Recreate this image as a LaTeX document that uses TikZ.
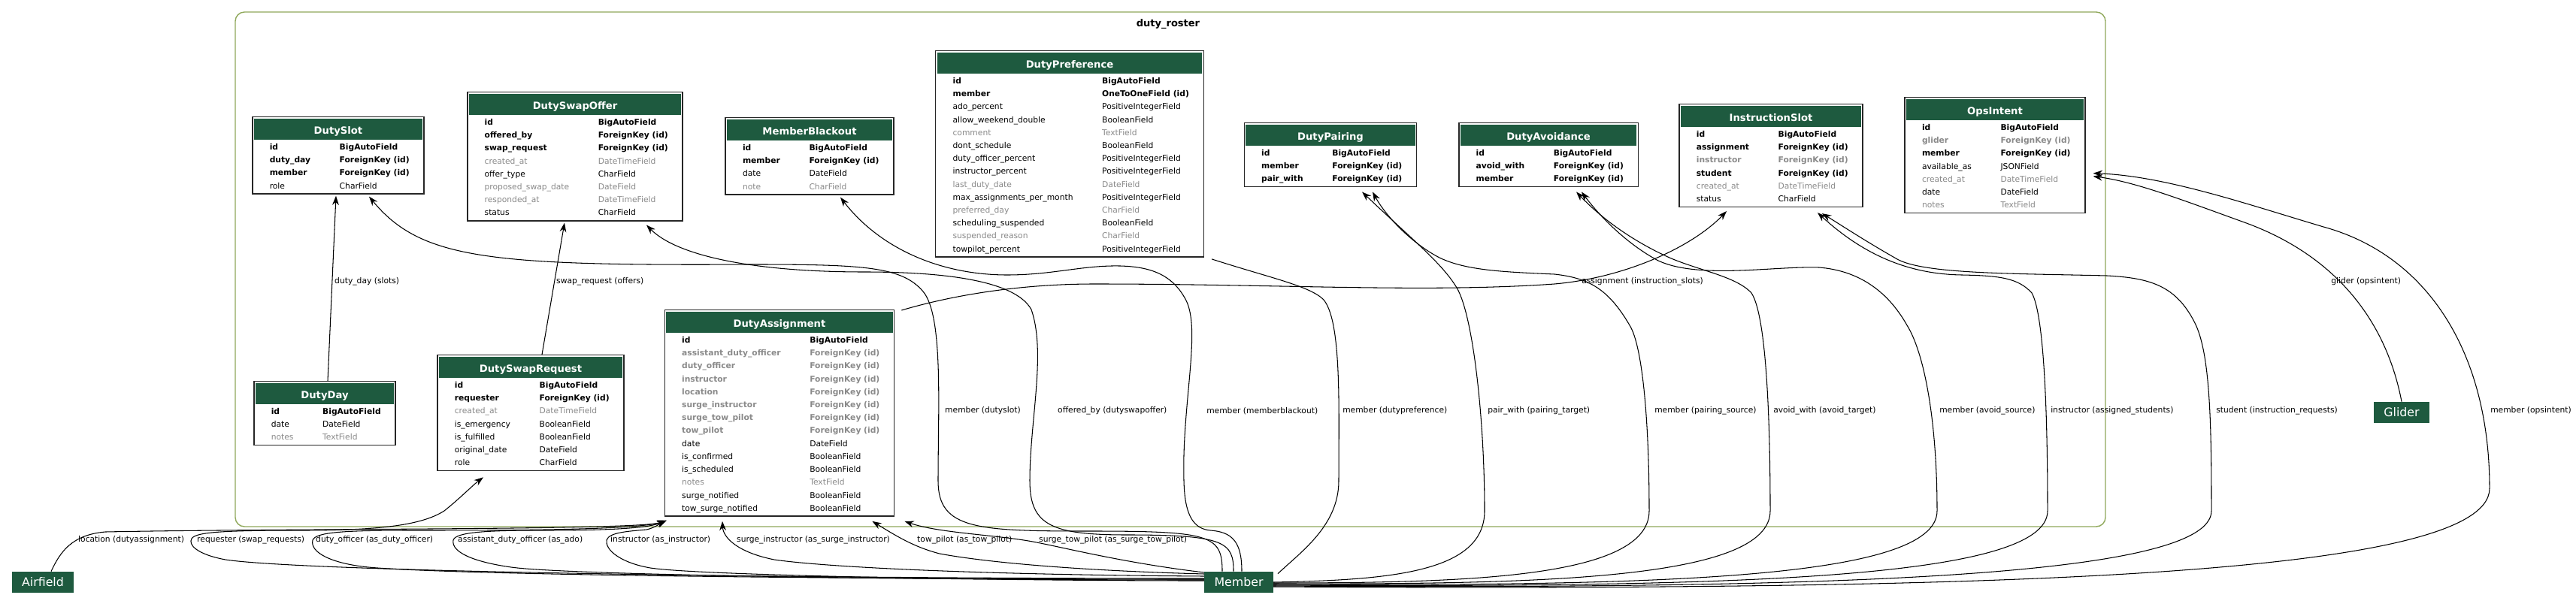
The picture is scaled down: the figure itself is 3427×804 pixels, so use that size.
\documentclass[tikz,border=0pt]{standalone}
\usepackage{fontspec}
\setmainfont{DejaVu Sans}
\usetikzlibrary{arrows, arrows.meta, positioning, calc}
\definecolor{hdrgreen}{HTML}{1E5A3F}
\definecolor{clustline}{HTML}{8FA85A}
\definecolor{nullgrey}{HTML}{8A8A8A}
\newcommand{\colgap}{22pt}
\newcommand{\tblfont}{\fontsize{6.1}{9.8}\selectfont}
% rows: bold, plain, grey, grey bold
\newcommand{\rowb}[2]{\textbf{#1} & \textbf{#2}\\}
\newcommand{\rowp}[2]{#1 & #2\\}
\newcommand{\rowg}[2]{\textcolor{nullgrey}{#1} & \textcolor{nullgrey}{#2}\\}
\newcommand{\rowgb}[2]{\textcolor{nullgrey}{\textbf{#1}} & \textcolor{nullgrey}{\textbf{#2}}\\}
\newcommand{\dbtable}[2]{%
  \begin{tabular}{@{\hspace{13pt}}l@{\hspace{\colgap}}l@{\hspace{11pt}}}
  \multicolumn{2}{c}{\rule[-5pt]{0pt}{17pt}\textcolor{white}{\fontsize{7.5}{9}\selectfont\bfseries #1}}\\
  #2
  \end{tabular}}
\tikzset{
    %Define standard arrow tip
    >={Stealth[length=7pt,width=5pt]},
    %Define style for model tables
    tbl/.style={
           draw=black!85, line width=0.8pt,
           fill=white,
           inner xsep=0pt, inner ysep=1pt,
           anchor=north,
           font=\tblfont,
           path picture={\fill[hdrgreen] ([xshift=1.2pt,yshift=-1.2pt]path picture bounding box.north west) rectangle ([xshift=-1.2pt,yshift=-17.5pt]path picture bounding box.north east);}},
    % Define arrow style
    pil/.style={
           ->,
           line width=0.6pt},
    link/.style={line width=0.6pt}
}

\begin{document}
\begin{tikzpicture}[x=0.02cm, y=-0.02cm]

% Style for outside models and labels
\tikzstyle{ent}=[fill=hdrgreen, text=white, inner xsep=7.5pt, minimum height=16pt, font=\fontsize{9}{10}\selectfont]
\tikzstyle{elabel}=[anchor=west, inner sep=0.5pt, font=\fontsize{6.1}{7}\selectfont]

\useasboundingbox (0,0) rectangle (3427,804);

% app cluster
\draw[clustline, line width=0.8pt, rounded corners=7pt] (313,16) rectangle (2801,701);
\node[font=\fontsize{7.4}{9}\selectfont\bfseries] (cname) at (1554,32) {duty\_roster};

% Tables, top row
\node[tbl] (dslot) at (450,155) {\dbtable{DutySlot}{%
  \rowb{id}{BigAutoField}
  \rowb{duty\_day}{ForeignKey (id)}
  \rowb{member}{ForeignKey (id)}
  \rowp{role}{CharField}}};
\node[tbl] (dswapoff) at (765,122) {\dbtable{DutySwapOffer}{%
  \rowb{id}{BigAutoField}
  \rowb{offered\_by}{ForeignKey (id)}
  \rowb{swap\_request}{ForeignKey (id)}
  \rowg{created\_at}{DateTimeField}
  \rowp{offer\_type}{CharField}
  \rowg{proposed\_swap\_date}{DateField}
  \rowg{responded\_at}{DateTimeField}
  \rowp{status}{CharField}}};
\node[tbl] (mblack) at (1077,156) {\dbtable{MemberBlackout}{%
  \rowb{id}{BigAutoField}
  \rowb{member}{ForeignKey (id)}
  \rowp{date}{DateField}
  \rowg{note}{CharField}}};
\node[tbl] (dpref) at (1423,67) {\dbtable{DutyPreference}{%
  \rowb{id}{BigAutoField}
  \rowb{member}{OneToOneField (id)}
  \rowp{ado\_percent}{PositiveIntegerField}
  \rowp{allow\_weekend\_double}{BooleanField}
  \rowg{comment}{TextField}
  \rowp{dont\_schedule}{BooleanField}
  \rowp{duty\_officer\_percent}{PositiveIntegerField}
  \rowp{instructor\_percent}{PositiveIntegerField}
  \rowg{last\_duty\_date}{DateField}
  \rowp{max\_assignments\_per\_month}{PositiveIntegerField}
  \rowg{preferred\_day}{CharField}
  \rowp{scheduling\_suspended}{BooleanField}
  \rowg{suspended\_reason}{CharField}
  \rowp{towpilot\_percent}{PositiveIntegerField}}};
\node[tbl] (dpair) at (1770,163) {\dbtable{DutyPairing}{%
  \rowb{id}{BigAutoField}
  \rowb{member}{ForeignKey (id)}
  \rowb{pair\_with}{ForeignKey (id)}}};
\node[tbl] (davoid) at (2060,163) {\dbtable{DutyAvoidance}{%
  \rowb{id}{BigAutoField}
  \rowb{avoid\_with}{ForeignKey (id)}
  \rowb{member}{ForeignKey (id)}}};
\node[tbl] (islot) at (2356,138) {\dbtable{InstructionSlot}{%
  \rowb{id}{BigAutoField}
  \rowb{assignment}{ForeignKey (id)}
  \rowgb{instructor}{ForeignKey (id)}
  \rowb{student}{ForeignKey (id)}
  \rowg{created\_at}{DateTimeField}
  \rowp{status}{CharField}}};
\node[tbl] (opsint) at (2654,129) {\dbtable{OpsIntent}{%
  \rowb{id}{BigAutoField}
  \rowgb{glider}{ForeignKey (id)}
  \rowb{member}{ForeignKey (id)}
  \rowp{available\_as}{JSONField}
  \rowg{created\_at}{DateTimeField}
  \rowp{date}{DateField}
  \rowg{notes}{TextField}}};

% Tables, bottom row
\node[tbl] (dday) at (432,507) {\dbtable{DutyDay}{%
  \rowb{id}{BigAutoField}
  \rowp{date}{DateField}
  \rowg{notes}{TextField}}};
\node[tbl] (dswapreq) at (706,472) {\dbtable{DutySwapRequest}{%
  \rowb{id}{BigAutoField}
  \rowb{requester}{ForeignKey (id)}
  \rowg{created\_at}{DateTimeField}
  \rowp{is\_emergency}{BooleanField}
  \rowp{is\_fulfilled}{BooleanField}
  \rowp{original\_date}{DateField}
  \rowp{role}{CharField}}};
\node[tbl] (dassign) at (1037,412) {\dbtable{DutyAssignment}{%
  \rowb{id}{BigAutoField}
  \rowgb{assistant\_duty\_officer}{ForeignKey (id)}
  \rowgb{duty\_officer}{ForeignKey (id)}
  \rowgb{instructor}{ForeignKey (id)}
  \rowgb{location}{ForeignKey (id)}
  \rowgb{surge\_instructor}{ForeignKey (id)}
  \rowgb{surge\_tow\_pilot}{ForeignKey (id)}
  \rowgb{tow\_pilot}{ForeignKey (id)}
  \rowp{date}{DateField}
  \rowp{is\_confirmed}{BooleanField}
  \rowp{is\_scheduled}{BooleanField}
  \rowg{notes}{TextField}
  \rowp{surge\_notified}{BooleanField}
  \rowp{tow\_surge\_notified}{BooleanField}}};

% Outside models
\node[ent] (airfield) at (57,775) {Airfield};
\node[ent] (member) at (1648,775) {Member};
\node[ent] (glider) at (3195,549) {Glider};

% Edge labels
\node[elabel] (lslots) at (444,375) {duty\_day (slots)};
\node[elabel] (loffers) at (739,375) {swap\_request (offers)};
\node[elabel] (lislots) at (2103,375) {assignment (instruction\_slots)};
\node[elabel] (lglider) at (3100,375) {glider (opsintent)};
\node[elabel] (ldslot) at (1256,547) {member (dutyslot)};
\node[elabel] (lswapoff) at (1406,547) {offered\_by (dutyswapoffer)};
\node[elabel] (lblack) at (1604,547) {member (memberblackout)};
\node[elabel] (lpref) at (1785,547) {member (dutypreference)};
\node[elabel] (lptarget) at (1978,547) {pair\_with (pairing\_target)};
\node[elabel] (lpsource) at (2200,547) {member (pairing\_source)};
\node[elabel] (latarget) at (2358,547) {avoid\_with (avoid\_target)};
\node[elabel] (lasource) at (2579,547) {member (avoid\_source)};
\node[elabel] (lstudents) at (2727,547) {instructor (assigned\_students)};
\node[elabel] (lrequests) at (2947,547) {student (instruction\_requests)};
\node[elabel] (lopsmember) at (3312,547) {member (opsintent)};
\node[elabel] (lloc) at (103,719) {location (dutyassignment)};
\node[elabel] (lreq) at (261,719) {requester (swap\_requests)};
\node[elabel] (ldo) at (419,719) {duty\_officer (as\_duty\_officer)};
\node[elabel] (lado) at (608,719) {assistant\_duty\_officer (as\_ado)};
\node[elabel] (linstr) at (811,719) {instructor (as\_instructor)};
\node[elabel] (lsinstr) at (979,719) {surge\_instructor (as\_surge\_instructor)};
\node[elabel] (ltow) at (1219,719) {tow\_pilot (as\_tow\_pilot)};
\node[elabel] (lstow) at (1381,719) {surge\_tow\_pilot (as\_surge\_tow\_pilot)};

% short links inside the app
\draw[pil] ($(dday.north)+(4,0)$) -- ($(dslot.south)+(-3,2)$);
\draw[pil] ($(dswapreq.north)+(15,0)$) -- ($(dswapoff.south)+(-14,2)$);
\draw[pil] ($(dassign.north east)+(9,1)$) .. controls (1260,395) and (1350,378) .. (1456,378)
    .. controls (1700,378) and (1900,390) .. (2068,378)
    .. controls (2160,370) and (2250,330) .. ($(islot.south)+(-59,5)$);

% Member up to the top row, left part
\draw[pil] ($(member.north)+(-22,0)$) .. controls (1626,712) and (1610,707) .. (1450,707)
    .. controls (1300,707) and (1248,705) .. (1248,640)
    .. controls (1248,540) and (1255,420) .. (1228,388)
    .. controls (1200,355) and (1150,352) .. (1000,352)
    .. controls (650,354) and (560,345) .. ($(dslot.south)+(41,3)$);
\draw[pil] ($(member.north)+(-7,0)$) .. controls (1641,722) and (1630,712) .. (1500,712)
    .. controls (1400,712) and (1370,700) .. (1370,640)
    .. controls (1370,560) and (1392,470) .. (1372,412)
    .. controls (1350,372) and (1250,362) .. (1150,362)
    .. controls (1000,362) and (900,340) .. ($(dswapoff.south)+(95,5)$);
\draw[pil] ($(member.north)+(4,0)$) .. controls (1652,722) and (1640,708) .. (1610,706)
    .. controls (1590,704) and (1576,690) .. (1575,640)
    .. controls (1572,540) and (1598,440) .. (1578,400)
    .. controls (1560,365) and (1530,355) .. (1490,354)
    .. controls (1440,353) and (1400,366) .. (1340,366)
    .. controls (1250,366) and (1170,330) .. ($(mblack.south)+(41,3)$);
\draw[link] ($(member.north east)+(6,3)$) .. controls (1730,735) and (1781,700) .. (1781,640)
    .. controls (1781,540) and (1785,425) .. (1760,398)
    .. controls (1740,380) and (1690,370) .. ($(dpref.south east)+(10,2)$);

% Member up to the top row, right part
\draw[pil] (member.east) .. controls (1850,772) and (1975,762) .. (1975,680)
    .. controls (1975,560) and (1960,420) .. (1938,383)
    .. controls (1918,350) and (1880,320) .. ($(dpair.south)+(42,6)$);
\draw[pil] ($(member.east)+(0,1)$) .. controls (1950,776) and (2194,770) .. (2194,680)
    .. controls (2194,560) and (2185,460) .. (2168,433)
    .. controls (2140,385) and (2114,370) .. (2068,365)
    .. controls (2000,362) and (1950,360) .. (1915,343)
    .. controls (1880,325) and (1845,290) .. ($(dpair.south)+(56,6)$);
\draw[pil] ($(member.east)+(0,2)$) .. controls (2050,778) and (2355,772) .. (2355,680)
    .. controls (2355,560) and (2350,420) .. (2330,390)
    .. controls (2310,368) and (2260,360) .. (2221,343)
    .. controls (2170,320) and (2130,290) .. ($(davoid.south)+(37,6)$);
\draw[pil] ($(member.east)+(0,3)$) .. controls (2200,780) and (2577,772) .. (2577,680)
    .. controls (2577,560) and (2560,470) .. (2537,433)
    .. controls (2510,385) and (2470,360) .. (2420,356)
    .. controls (2360,354) and (2260,372) .. (2206,347)
    .. controls (2165,325) and (2130,290) .. ($(davoid.south)+(44,6)$);
\draw[pil] ($(member.east)+(0,4)$) .. controls (2300,782) and (2724,772) .. (2724,680)
    .. controls (2724,560) and (2720,420) .. (2703,390)
    .. controls (2685,370) and (2660,367) .. (2610,366)
    .. controls (2540,365) and (2480,340) .. ($(islot.south)+(62,7)$);
\draw[pil] ($(member.east)+(0,5)$) .. controls (2400,784) and (2942,772) .. (2942,680)
    .. controls (2942,560) and (2940,470) .. (2920,430)
    .. controls (2895,380) and (2860,370) .. (2803,367)
    .. controls (2680,364) and (2560,365) .. (2524,345)
    .. controls (2480,320) and (2450,300) .. ($(islot.south)+(68,8)$);
\draw[pil] ($(member.east)+(0,6)$) .. controls (2600,786) and (3312,772) .. (3312,650)
    .. controls (3312,470) and (3230,340) .. (3091,302)
    .. controls (2990,272) and (2880,234) .. ($(opsint.east)+(10,24)$);
\draw[pil] (glider.north) .. controls (3175,430) and (3110,340) .. (2983,295)
    .. controls (2900,265) and (2840,242) .. ($(opsint.east)+(10,28)$);

% Airfield and Member down to the assignments
\draw[pil] ($(airfield.north)+(11,0)$) .. controls (80,735) and (95,712) .. (140,708)
    .. controls (400,703) and (850,706) .. ($(dassign.south west)+(3,5)$);
\draw[pil] ($(member.west)+(0,-5)$) .. controls (1000,770) and (400,760) .. (300,745)
    .. controls (262,738) and (250,725) .. (255,717)
    .. controls (260,708) and (300,706) .. (400,706)
    .. controls (500,706) and (560,700) .. (591,680)
    .. controls (610,665) and (630,645) .. ($(dswapreq.south)+(-63,8)$);
\draw[pil] ($(member.west)+(0,-4)$) .. controls (1100,771) and (600,765) .. (490,755)
    .. controls (440,750) and (412,735) .. (416,719)
    .. controls (420,708) and (460,706) .. (550,706)
    .. controls (700,706) and (850,705) .. ($(dassign.south west)+(3,5)$);
\draw[pil] ($(member.west)+(0,-3)$) .. controls (1200,772) and (750,765) .. (680,755)
    .. controls (630,748) and (600,735) .. (603,719)
    .. controls (606,708) and (650,706) .. (720,706)
    .. controls (800,706) and (860,704) .. ($(dassign.south west)+(3,5)$);
\draw[pil] ($(member.west)+(0,-2)$) .. controls (1300,773) and (900,765) .. (860,755)
    .. controls (825,748) and (805,732) .. (807,719)
    .. controls (810,708) and (840,707) .. (860,705)
    .. controls (870,703) and (878,697) .. ($(dassign.south west)+(3,5)$);
\draw[pil] ($(member.west)+(0,-8)$) .. controls (1300,765) and (1100,755) .. (1030,745)
    .. controls (980,735) and (962,715) .. ($(dassign.south)+(-76,6)$);
\draw[pil] ($(member.west)+(0,-11)$) .. controls (1450,760) and (1320,750) .. (1250,737)
    .. controls (1215,728) and (1190,712) .. ($(dassign.south east)+(-30,6)$);
\draw[pil] ($(member.west)+(0,-13)$) .. controls (1500,750) and (1420,730) .. (1379,722)
    .. controls (1330,712) and (1250,710) .. ($(dassign.south east)+(13,6)$);

\end{tikzpicture}
\end{document}
